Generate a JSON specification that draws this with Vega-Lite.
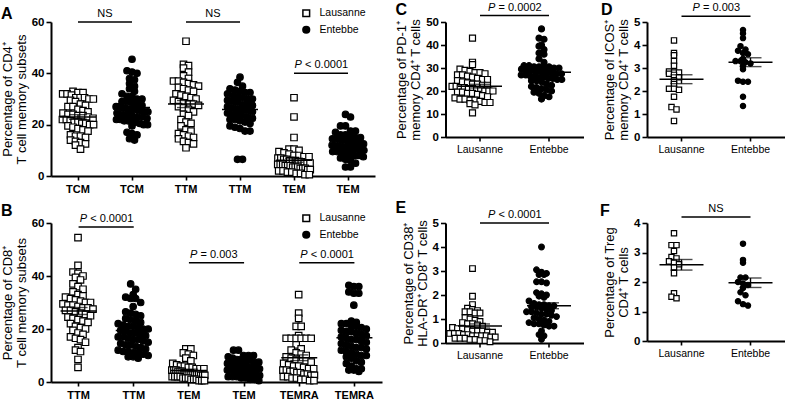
{
"$schema":"https://vega.github.io/schema/vega-lite/v6.json",
"background":"white",
"padding":{"left":1,"top":1,"right":0,"bottom":0},
"config":{
 "font":"Liberation Sans",
 "view":{"stroke":null},
 "axis":{"grid":false,"domainColor":"black","domainWidth":2,"tickColor":"black","tickWidth":1.6,"tickSize":5,"labelColor":"black","labelFontWeight":"bold","labelFontSize":11.5,"labelPadding":2,"titleColor":"black","titleFontWeight":"normal","titleFontSize":13,"titleFont":"Liberation Sans","labelFont":"Liberation Sans","titleLineHeight":14,"titlePadding":3},
 "axisX":{"tickSize":4,"labelAngle":0,"labelPadding":3,"labelFontSize":10.5,"labelFontWeight":"normal"},
 "title":{"fontSize":16,"fontWeight":"bold","anchor":"start","frame":"group","color":"black","baseline":"alphabetic"}
},
"datasets":{
"a":[
{"g":"L1","v":33},{"g":"L1","v":32.5},{"g":"L1","v":32.5},{"g":"L1","v":32},{"g":"L1","v":32},{"g":"L1","v":31.5},{"g":"L1","v":30.5},{"g":"L1","v":30.5},{"g":"L1","v":30.5},{"g":"L1","v":30},{"g":"L1","v":30},{"g":"L1","v":29.5},{"g":"L1","v":29},{"g":"L1","v":28},{"g":"L1","v":27.5},{"g":"L1","v":27},{"g":"L1","v":27},{"g":"L1","v":26},{"g":"L1","v":25.5},{"g":"L1","v":25},{"g":"L1","v":24.5},{"g":"L1","v":24},{"g":"L1","v":24},{"g":"L1","v":23.5},{"g":"L1","v":23.5},{"g":"L1","v":23},{"g":"L1","v":22.5},{"g":"L1","v":22},{"g":"L1","v":22},{"g":"L1","v":21.5},{"g":"L1","v":21},{"g":"L1","v":21},{"g":"L1","v":20.5},{"g":"L1","v":20.5},{"g":"L1","v":20},{"g":"L1","v":20},{"g":"L1","v":19.5},{"g":"L1","v":19},{"g":"L1","v":18.5},{"g":"L1","v":18},{"g":"L1","v":17.5},{"g":"L1","v":16},{"g":"L1","v":15.5},{"g":"L1","v":15.5},{"g":"L1","v":15},{"g":"L1","v":14},{"g":"L1","v":13.5},{"g":"L1","v":13},{"g":"L1","v":12.5},{"g":"L1","v":12},{"g":"L1","v":10.5},
{"g":"E1","v":45.5},{"g":"E1","v":41},{"g":"E1","v":40.5},{"g":"E1","v":40},{"g":"E1","v":38},{"g":"E1","v":37.5},{"g":"E1","v":36},{"g":"E1","v":35},{"g":"E1","v":34},{"g":"E1","v":33},{"g":"E1","v":32},{"g":"E1","v":31},{"g":"E1","v":31},{"g":"E1","v":30},{"g":"E1","v":30},{"g":"E1","v":29},{"g":"E1","v":29},{"g":"E1","v":28.5},{"g":"E1","v":28},{"g":"E1","v":27.5},{"g":"E1","v":27},{"g":"E1","v":27},{"g":"E1","v":26.5},{"g":"E1","v":26.5},{"g":"E1","v":26},{"g":"E1","v":26},{"g":"E1","v":26},{"g":"E1","v":25.5},{"g":"E1","v":25.5},{"g":"E1","v":25},{"g":"E1","v":25},{"g":"E1","v":24.5},{"g":"E1","v":24},{"g":"E1","v":24},{"g":"E1","v":23.5},{"g":"E1","v":23},{"g":"E1","v":23},{"g":"E1","v":22.5},{"g":"E1","v":22},{"g":"E1","v":22},{"g":"E1","v":21.5},{"g":"E1","v":21.5},{"g":"E1","v":21},{"g":"E1","v":21},{"g":"E1","v":20.5},{"g":"E1","v":20},{"g":"E1","v":20},{"g":"E1","v":19.5},{"g":"E1","v":17},{"g":"E1","v":16.5},{"g":"E1","v":16},{"g":"E1","v":14.5},{"g":"E1","v":14},
{"g":"L2","v":52.5},{"g":"L2","v":43.5},{"g":"L2","v":43},{"g":"L2","v":42},{"g":"L2","v":40.5},{"g":"L2","v":39},{"g":"L2","v":38},{"g":"L2","v":37},{"g":"L2","v":37},{"g":"L2","v":36.5},{"g":"L2","v":36},{"g":"L2","v":35.5},{"g":"L2","v":35},{"g":"L2","v":34.5},{"g":"L2","v":34},{"g":"L2","v":33.5},{"g":"L2","v":33},{"g":"L2","v":32},{"g":"L2","v":31.5},{"g":"L2","v":31},{"g":"L2","v":30.5},{"g":"L2","v":30},{"g":"L2","v":29.5},{"g":"L2","v":29},{"g":"L2","v":28.5},{"g":"L2","v":28},{"g":"L2","v":28},{"g":"L2","v":27.5},{"g":"L2","v":27},{"g":"L2","v":26.5},{"g":"L2","v":26},{"g":"L2","v":25},{"g":"L2","v":24},{"g":"L2","v":23.5},{"g":"L2","v":22},{"g":"L2","v":21},{"g":"L2","v":20.5},{"g":"L2","v":19.5},{"g":"L2","v":18},{"g":"L2","v":17.5},{"g":"L2","v":16.5},{"g":"L2","v":16},{"g":"L2","v":15.5},{"g":"L2","v":15},{"g":"L2","v":14.5},{"g":"L2","v":13.5},{"g":"L2","v":13},{"g":"L2","v":12.5},{"g":"L2","v":11},
{"g":"E2","v":38.5},{"g":"E2","v":36.5},{"g":"E2","v":35},{"g":"E2","v":34},{"g":"E2","v":33.5},{"g":"E2","v":33},{"g":"E2","v":32.5},{"g":"E2","v":32.5},{"g":"E2","v":32},{"g":"E2","v":31.5},{"g":"E2","v":31},{"g":"E2","v":30.5},{"g":"E2","v":30},{"g":"E2","v":30},{"g":"E2","v":29.5},{"g":"E2","v":29},{"g":"E2","v":28.5},{"g":"E2","v":28},{"g":"E2","v":28},{"g":"E2","v":27.5},{"g":"E2","v":27},{"g":"E2","v":26.5},{"g":"E2","v":26},{"g":"E2","v":26},{"g":"E2","v":25.5},{"g":"E2","v":25},{"g":"E2","v":24.5},{"g":"E2","v":24},{"g":"E2","v":24},{"g":"E2","v":23.5},{"g":"E2","v":23},{"g":"E2","v":22.5},{"g":"E2","v":22},{"g":"E2","v":22},{"g":"E2","v":21.5},{"g":"E2","v":21},{"g":"E2","v":20.5},{"g":"E2","v":19.5},{"g":"E2","v":19},{"g":"E2","v":18.5},{"g":"E2","v":17.5},{"g":"E2","v":17.5},{"g":"E2","v":6.5},{"g":"E2","v":6.5},
{"g":"L3","v":30.5},{"g":"L3","v":23},{"g":"L3","v":15},{"g":"L3","v":10.5},{"g":"L3","v":10.5},{"g":"L3","v":10},{"g":"L3","v":9.5},{"g":"L3","v":9},{"g":"L3","v":8.5},{"g":"L3","v":8},{"g":"L3","v":8},{"g":"L3","v":7.5},{"g":"L3","v":7.5},{"g":"L3","v":7},{"g":"L3","v":7},{"g":"L3","v":6.5},{"g":"L3","v":6.5},{"g":"L3","v":6},{"g":"L3","v":6},{"g":"L3","v":6},{"g":"L3","v":5.5},{"g":"L3","v":5.5},{"g":"L3","v":5},{"g":"L3","v":5},{"g":"L3","v":5},{"g":"L3","v":4.5},{"g":"L3","v":4.5},{"g":"L3","v":4.5},{"g":"L3","v":4},{"g":"L3","v":4},{"g":"L3","v":4},{"g":"L3","v":3.5},{"g":"L3","v":3.5},{"g":"L3","v":3.5},{"g":"L3","v":3},{"g":"L3","v":3},{"g":"L3","v":3},{"g":"L3","v":2.5},{"g":"L3","v":2.5},{"g":"L3","v":2},{"g":"L3","v":2},{"g":"L3","v":1.5},{"g":"L3","v":1.5},{"g":"L3","v":1},{"g":"L3","v":1},{"g":"L3","v":0.5},{"g":"L3","v":0.5},
{"g":"E3","v":24},{"g":"E3","v":23},{"g":"E3","v":19.5},{"g":"E3","v":19.5},{"g":"E3","v":17.5},{"g":"E3","v":17.5},{"g":"E3","v":17},{"g":"E3","v":16},{"g":"E3","v":16},{"g":"E3","v":15.5},{"g":"E3","v":15},{"g":"E3","v":15},{"g":"E3","v":14.5},{"g":"E3","v":14.5},{"g":"E3","v":14},{"g":"E3","v":14},{"g":"E3","v":13.5},{"g":"E3","v":13},{"g":"E3","v":13},{"g":"E3","v":12.5},{"g":"E3","v":12.5},{"g":"E3","v":12},{"g":"E3","v":12},{"g":"E3","v":11.5},{"g":"E3","v":11.5},{"g":"E3","v":11},{"g":"E3","v":11},{"g":"E3","v":10.5},{"g":"E3","v":10.5},{"g":"E3","v":10.5},{"g":"E3","v":10},{"g":"E3","v":10},{"g":"E3","v":9.5},{"g":"E3","v":9.5},{"g":"E3","v":9},{"g":"E3","v":9},{"g":"E3","v":8.5},{"g":"E3","v":8},{"g":"E3","v":8},{"g":"E3","v":7.5},{"g":"E3","v":7},{"g":"E3","v":6.5},{"g":"E3","v":6},{"g":"E3","v":5},{"g":"E3","v":3.5},{"g":"E3","v":3.5}
],
"b":[
{"g":"L1","v":54.5},{"g":"L1","v":44},{"g":"L1","v":41.5},{"g":"L1","v":41},{"g":"L1","v":40},{"g":"L1","v":39.5},{"g":"L1","v":38.5},{"g":"L1","v":37},{"g":"L1","v":36},{"g":"L1","v":35},{"g":"L1","v":34},{"g":"L1","v":33},{"g":"L1","v":32.5},{"g":"L1","v":32},{"g":"L1","v":31.5},{"g":"L1","v":31},{"g":"L1","v":30.5},{"g":"L1","v":30},{"g":"L1","v":30},{"g":"L1","v":29.5},{"g":"L1","v":29},{"g":"L1","v":29},{"g":"L1","v":28.5},{"g":"L1","v":28},{"g":"L1","v":28},{"g":"L1","v":27.5},{"g":"L1","v":27},{"g":"L1","v":27},{"g":"L1","v":26.5},{"g":"L1","v":26},{"g":"L1","v":25.5},{"g":"L1","v":25},{"g":"L1","v":24.5},{"g":"L1","v":24},{"g":"L1","v":23.5},{"g":"L1","v":23},{"g":"L1","v":22.5},{"g":"L1","v":22},{"g":"L1","v":21},{"g":"L1","v":20.5},{"g":"L1","v":20},{"g":"L1","v":19.5},{"g":"L1","v":18.5},{"g":"L1","v":18},{"g":"L1","v":17},{"g":"L1","v":16.5},{"g":"L1","v":16},{"g":"L1","v":15},{"g":"L1","v":13},{"g":"L1","v":12},{"g":"L1","v":11.5},{"g":"L1","v":8.5},{"g":"L1","v":5.5},
{"g":"E1","v":37},{"g":"E1","v":35},{"g":"E1","v":33},{"g":"E1","v":32},{"g":"E1","v":31.5},{"g":"E1","v":31.5},{"g":"E1","v":30},{"g":"E1","v":28.5},{"g":"E1","v":26.5},{"g":"E1","v":26},{"g":"E1","v":25.5},{"g":"E1","v":25},{"g":"E1","v":24},{"g":"E1","v":23.5},{"g":"E1","v":23},{"g":"E1","v":22.5},{"g":"E1","v":22},{"g":"E1","v":21.5},{"g":"E1","v":21},{"g":"E1","v":21},{"g":"E1","v":20.5},{"g":"E1","v":20},{"g":"E1","v":20},{"g":"E1","v":19.5},{"g":"E1","v":19},{"g":"E1","v":18.5},{"g":"E1","v":18.5},{"g":"E1","v":18},{"g":"E1","v":17.5},{"g":"E1","v":17},{"g":"E1","v":17},{"g":"E1","v":16.5},{"g":"E1","v":16},{"g":"E1","v":16},{"g":"E1","v":15.5},{"g":"E1","v":15},{"g":"E1","v":14.5},{"g":"E1","v":14},{"g":"E1","v":14},{"g":"E1","v":13.5},{"g":"E1","v":13},{"g":"E1","v":12.5},{"g":"E1","v":12},{"g":"E1","v":11.5},{"g":"E1","v":11.5},{"g":"E1","v":11},{"g":"E1","v":11},{"g":"E1","v":10.5},{"g":"E1","v":10},{"g":"E1","v":9.5},{"g":"E1","v":9.5},{"g":"E1","v":9},
{"g":"L2","v":12.5},{"g":"L2","v":12.5},{"g":"L2","v":11},{"g":"L2","v":10.5},{"g":"L2","v":10},{"g":"L2","v":9},{"g":"L2","v":8},{"g":"L2","v":7},{"g":"L2","v":6.5},{"g":"L2","v":6},{"g":"L2","v":6},{"g":"L2","v":5.5},{"g":"L2","v":5.5},{"g":"L2","v":5},{"g":"L2","v":5},{"g":"L2","v":5},{"g":"L2","v":4.5},{"g":"L2","v":4.5},{"g":"L2","v":4.5},{"g":"L2","v":4},{"g":"L2","v":4},{"g":"L2","v":4},{"g":"L2","v":3.5},{"g":"L2","v":3.5},{"g":"L2","v":3.5},{"g":"L2","v":3.5},{"g":"L2","v":3},{"g":"L2","v":3},{"g":"L2","v":3},{"g":"L2","v":3},{"g":"L2","v":2.5},{"g":"L2","v":2.5},{"g":"L2","v":2.5},{"g":"L2","v":2},{"g":"L2","v":2},{"g":"L2","v":2},{"g":"L2","v":2},{"g":"L2","v":1.5},{"g":"L2","v":1.5},{"g":"L2","v":1.5},{"g":"L2","v":1},{"g":"L2","v":1},{"g":"L2","v":1},{"g":"L2","v":0.5},{"g":"L2","v":0.5},{"g":"L2","v":0.5},
{"g":"E2","v":12},{"g":"E2","v":12},{"g":"E2","v":10},{"g":"E2","v":10},{"g":"E2","v":10},{"g":"E2","v":9.5},{"g":"E2","v":9},{"g":"E2","v":8.5},{"g":"E2","v":8.5},{"g":"E2","v":8},{"g":"E2","v":8},{"g":"E2","v":7.5},{"g":"E2","v":7.5},{"g":"E2","v":7},{"g":"E2","v":7},{"g":"E2","v":6.5},{"g":"E2","v":6.5},{"g":"E2","v":6},{"g":"E2","v":6},{"g":"E2","v":6},{"g":"E2","v":5.5},{"g":"E2","v":5.5},{"g":"E2","v":5},{"g":"E2","v":5},{"g":"E2","v":5},{"g":"E2","v":4.5},{"g":"E2","v":4.5},{"g":"E2","v":4.5},{"g":"E2","v":4},{"g":"E2","v":4},{"g":"E2","v":4},{"g":"E2","v":3.5},{"g":"E2","v":3.5},{"g":"E2","v":3},{"g":"E2","v":3},{"g":"E2","v":3},{"g":"E2","v":2.5},{"g":"E2","v":2.5},{"g":"E2","v":2},{"g":"E2","v":2},{"g":"E2","v":2},{"g":"E2","v":1.5},{"g":"E2","v":1.5},{"g":"E2","v":1},{"g":"E2","v":1},{"g":"E2","v":0.5},
{"g":"L3","v":33},{"g":"L3","v":26},{"g":"L3","v":24},{"g":"L3","v":21},{"g":"L3","v":21},{"g":"L3","v":17.5},{"g":"L3","v":16.5},{"g":"L3","v":16.5},{"g":"L3","v":16.5},{"g":"L3","v":16.5},{"g":"L3","v":16.5},{"g":"L3","v":16.5},{"g":"L3","v":14},{"g":"L3","v":12.5},{"g":"L3","v":12},{"g":"L3","v":11},{"g":"L3","v":10.5},{"g":"L3","v":10},{"g":"L3","v":9.5},{"g":"L3","v":9},{"g":"L3","v":8.5},{"g":"L3","v":8},{"g":"L3","v":8},{"g":"L3","v":7.5},{"g":"L3","v":7},{"g":"L3","v":6.5},{"g":"L3","v":6},{"g":"L3","v":6},{"g":"L3","v":5.5},{"g":"L3","v":5},{"g":"L3","v":5},{"g":"L3","v":4.5},{"g":"L3","v":4.5},{"g":"L3","v":4},{"g":"L3","v":4},{"g":"L3","v":3.5},{"g":"L3","v":3.5},{"g":"L3","v":3},{"g":"L3","v":3},{"g":"L3","v":2.5},{"g":"L3","v":2.5},{"g":"L3","v":2},{"g":"L3","v":2},{"g":"L3","v":1.5},{"g":"L3","v":1.5},{"g":"L3","v":1},{"g":"L3","v":1},{"g":"L3","v":0.5},{"g":"L3","v":0.5},
{"g":"E3","v":36.5},{"g":"E3","v":36},{"g":"E3","v":36},{"g":"E3","v":34},{"g":"E3","v":33.5},{"g":"E3","v":33.5},{"g":"E3","v":29},{"g":"E3","v":23},{"g":"E3","v":22.5},{"g":"E3","v":22},{"g":"E3","v":22},{"g":"E3","v":21},{"g":"E3","v":21},{"g":"E3","v":20.5},{"g":"E3","v":20},{"g":"E3","v":19.5},{"g":"E3","v":19},{"g":"E3","v":19},{"g":"E3","v":18.5},{"g":"E3","v":18},{"g":"E3","v":17.5},{"g":"E3","v":17},{"g":"E3","v":16.5},{"g":"E3","v":16},{"g":"E3","v":16},{"g":"E3","v":15.5},{"g":"E3","v":15},{"g":"E3","v":14.5},{"g":"E3","v":14},{"g":"E3","v":13.5},{"g":"E3","v":13},{"g":"E3","v":13},{"g":"E3","v":12.5},{"g":"E3","v":12},{"g":"E3","v":11.5},{"g":"E3","v":11},{"g":"E3","v":10.5},{"g":"E3","v":10},{"g":"E3","v":10},{"g":"E3","v":9.5},{"g":"E3","v":9},{"g":"E3","v":8},{"g":"E3","v":7.5},{"g":"E3","v":7},{"g":"E3","v":6},{"g":"E3","v":5},{"g":"E3","v":5},{"g":"E3","v":4.5},{"g":"E3","v":4.5},{"g":"E3","v":4}
],
"c":[
{"g":"L","v":43},{"g":"L","v":32.5},{"g":"L","v":31.5},{"g":"L","v":29.5},{"g":"L","v":29},{"g":"L","v":28.5},{"g":"L","v":28},{"g":"L","v":28},{"g":"L","v":27.5},{"g":"L","v":27},{"g":"L","v":27},{"g":"L","v":26.5},{"g":"L","v":26},{"g":"L","v":25.5},{"g":"L","v":25},{"g":"L","v":25},{"g":"L","v":24.5},{"g":"L","v":24},{"g":"L","v":23.5},{"g":"L","v":23},{"g":"L","v":23},{"g":"L","v":22.5},{"g":"L","v":22.5},{"g":"L","v":22},{"g":"L","v":22},{"g":"L","v":21.5},{"g":"L","v":21.5},{"g":"L","v":21},{"g":"L","v":21},{"g":"L","v":20.5},{"g":"L","v":20.5},{"g":"L","v":20},{"g":"L","v":20},{"g":"L","v":20},{"g":"L","v":19.5},{"g":"L","v":19.5},{"g":"L","v":19},{"g":"L","v":19},{"g":"L","v":18.5},{"g":"L","v":18},{"g":"L","v":17.5},{"g":"L","v":17},{"g":"L","v":16.5},{"g":"L","v":16.5},{"g":"L","v":16},{"g":"L","v":16},{"g":"L","v":15.5},{"g":"L","v":15},{"g":"L","v":15},{"g":"L","v":14.5},{"g":"L","v":14},{"g":"L","v":10.5},
{"g":"E","v":47},{"g":"E","v":43},{"g":"E","v":42.5},{"g":"E","v":40},{"g":"E","v":39.5},{"g":"E","v":38},{"g":"E","v":36.5},{"g":"E","v":36},{"g":"E","v":34},{"g":"E","v":32.5},{"g":"E","v":31},{"g":"E","v":31},{"g":"E","v":30.5},{"g":"E","v":30.5},{"g":"E","v":30.5},{"g":"E","v":30.5},{"g":"E","v":30},{"g":"E","v":30},{"g":"E","v":29.5},{"g":"E","v":29},{"g":"E","v":29},{"g":"E","v":28.5},{"g":"E","v":28.5},{"g":"E","v":28},{"g":"E","v":28},{"g":"E","v":27.5},{"g":"E","v":27.5},{"g":"E","v":27},{"g":"E","v":27},{"g":"E","v":26.5},{"g":"E","v":26.5},{"g":"E","v":26},{"g":"E","v":26},{"g":"E","v":25.5},{"g":"E","v":25.5},{"g":"E","v":25},{"g":"E","v":25},{"g":"E","v":24.5},{"g":"E","v":24.5},{"g":"E","v":24},{"g":"E","v":23},{"g":"E","v":22.5},{"g":"E","v":22},{"g":"E","v":21.5},{"g":"E","v":21},{"g":"E","v":20.5},{"g":"E","v":20},{"g":"E","v":19.5},{"g":"E","v":19},{"g":"E","v":18},{"g":"E","v":17.5},{"g":"E","v":16.5}
],
"d":[
{"g":"L","v":4.2},{"g":"L","v":3.65},{"g":"L","v":3.55},{"g":"L","v":3.3},{"g":"L","v":3.1},{"g":"L","v":2.85},{"g":"L","v":2.8},{"g":"L","v":2.8},{"g":"L","v":2.75},{"g":"L","v":2.7},{"g":"L","v":2.6},{"g":"L","v":2.45},{"g":"L","v":2.3},{"g":"L","v":2.1},{"g":"L","v":2.1},{"g":"L","v":2.05},{"g":"L","v":1.75},{"g":"L","v":1.3},{"g":"L","v":1.2},{"g":"L","v":0.7},
{"g":"E","v":4.65},{"g":"E","v":4.5},{"g":"E","v":4.3},{"g":"E","v":3.95},{"g":"E","v":3.8},{"g":"E","v":3.75},{"g":"E","v":3.65},{"g":"E","v":3.6},{"g":"E","v":3.4},{"g":"E","v":3.3},{"g":"E","v":3.3},{"g":"E","v":3.25},{"g":"E","v":3.2},{"g":"E","v":3.1},{"g":"E","v":2.95},{"g":"E","v":2.45},{"g":"E","v":2.4},{"g":"E","v":2.4},{"g":"E","v":1.75},{"g":"E","v":1.35}
],
"e":[
{"g":"L","v":3.1},{"g":"L","v":1.95},{"g":"L","v":1.6},{"g":"L","v":1.45},{"g":"L","v":1.4},{"g":"L","v":1.35},{"g":"L","v":1.3},{"g":"L","v":1.3},{"g":"L","v":1.25},{"g":"L","v":1.25},{"g":"L","v":1.05},{"g":"L","v":1.0},{"g":"L","v":0.95},{"g":"L","v":0.9},{"g":"L","v":0.85},{"g":"L","v":0.8},{"g":"L","v":0.8},{"g":"L","v":0.75},{"g":"L","v":0.7},{"g":"L","v":0.65},{"g":"L","v":0.6},{"g":"L","v":0.6},{"g":"L","v":0.55},{"g":"L","v":0.5},{"g":"L","v":0.5},{"g":"L","v":0.5},{"g":"L","v":0.45},{"g":"L","v":0.45},{"g":"L","v":0.4},{"g":"L","v":0.4},{"g":"L","v":0.4},{"g":"L","v":0.35},{"g":"L","v":0.35},{"g":"L","v":0.3},{"g":"L","v":0.3},{"g":"L","v":0.3},{"g":"L","v":0.3},{"g":"L","v":0.25},{"g":"L","v":0.25},{"g":"L","v":0.2},{"g":"L","v":0.2},{"g":"L","v":0.2},{"g":"L","v":0.15},{"g":"L","v":0.15},{"g":"L","v":0.1},{"g":"L","v":0.1},{"g":"L","v":0.05},
{"g":"E","v":4.0},{"g":"E","v":3.05},{"g":"E","v":2.95},{"g":"E","v":2.9},{"g":"E","v":2.85},{"g":"E","v":2.85},{"g":"E","v":2.55},{"g":"E","v":2.55},{"g":"E","v":2.5},{"g":"E","v":2.1},{"g":"E","v":2.05},{"g":"E","v":2.0},{"g":"E","v":1.95},{"g":"E","v":1.9},{"g":"E","v":1.75},{"g":"E","v":1.65},{"g":"E","v":1.6},{"g":"E","v":1.6},{"g":"E","v":1.55},{"g":"E","v":1.55},{"g":"E","v":1.5},{"g":"E","v":1.5},{"g":"E","v":1.45},{"g":"E","v":1.4},{"g":"E","v":1.35},{"g":"E","v":1.3},{"g":"E","v":1.3},{"g":"E","v":1.25},{"g":"E","v":1.2},{"g":"E","v":1.2},{"g":"E","v":1.15},{"g":"E","v":1.1},{"g":"E","v":1.05},{"g":"E","v":1.0},{"g":"E","v":0.95},{"g":"E","v":0.9},{"g":"E","v":0.85},{"g":"E","v":0.8},{"g":"E","v":0.8},{"g":"E","v":0.75},{"g":"E","v":0.7},{"g":"E","v":0.7},{"g":"E","v":0.5},{"g":"E","v":0.35},{"g":"E","v":0.3},{"g":"E","v":0.15}
],
"f":[
{"g":"L","v":3.65},{"g":"L","v":3.25},{"g":"L","v":3.25},{"g":"L","v":3.05},{"g":"L","v":2.85},{"g":"L","v":2.8},{"g":"L","v":2.7},{"g":"L","v":2.65},{"g":"L","v":2.6},{"g":"L","v":2.5},{"g":"L","v":2.3},{"g":"L","v":1.62},{"g":"L","v":1.5},{"g":"L","v":1.45},
{"g":"E","v":3.3},{"g":"E","v":2.75},{"g":"E","v":2.65},{"g":"E","v":2.15},{"g":"E","v":2.15},{"g":"E","v":2.0},{"g":"E","v":1.95},{"g":"E","v":1.9},{"g":"E","v":1.8},{"g":"E","v":1.65},{"g":"E","v":1.55},{"g":"E","v":1.35},{"g":"E","v":1.25},{"g":"E","v":1.2}
]
},
"bounds":"flush",
"columns":3,
"spacing":{"row":47,"column":63.5},
"resolve":{"scale":{"shape":"independent","fill":"independent"},"legend":{"shape":"independent","fill":"independent"}},
"concat":[
 {"width":324,"height":154,"title":{"text":"A","dx":-50,"offset":-14},"data":{"name":"a"},
  "encoding":{
   "x":{"field":"g","type":"nominal","title":null,"scale":{"domain":["L1","E1","L2","E2","L3","E3"],"paddingInner":0,"paddingOuter":0},"axis":{"labelExpr":"indexof(datum.value,'1')>=0?'TCM':indexof(datum.value,'2')>=0?'TTM':'TEM'","labelFontWeight":"bold","labelFontSize":11}},
   "y":{"field":"v","type":"quantitative","title":["Percentage of CD4⁺","T cell memory subsets"],"scale":{"domain":[0,60],"nice":false},"axis":{"values":[0,20,40,60]}}
  },
  "layer":[
   {"transform":[{"bin":{"step":2.5},"field":"v","as":"vb"},{"window":[{"op":"row_number","as":"r"}],"groupby":["g","vb"]},{"joinaggregate":[{"op":"count","as":"n"}],"groupby":["g","vb"]},{"calculate":"(datum.r-(datum.n+1)/2)*min(1,7/datum.n)","as":"o"}],
    "mark":{"type":"point","stroke":"black","strokeWidth":1.2,"size":42,"opacity":1,"fillOpacity":1},
    "encoding":{
     "xOffset":{"field":"o","type":"quantitative","scale":{"domain":[-3.4,3.4]}},
     "shape":{"field":"g","type":"nominal","scale":{"domain":["L1","E1","L2","E2","L3","E3"],"range":["square","circle","square","circle","square","circle"]},"legend":{"orient":"none","legendX":250,"legendY":-14,"title":null,"values":["L1","E1"],"labelExpr":"datum.value=='L1'?'Lausanne':'Entebbe'","symbolSize":45,"labelFontSize":10.5,"labelColor":"black","padding":0,"rowPadding":2.5,"labelOffset":8,"encode":{"symbols":{"fill":{"condition":{"test":"datum.value=='L1'","value":"white"},"value":"black"},"stroke":{"value":"black"},"strokeWidth":{"value":1.3},"opacity":{"value":1}}}}},
     "fill":{"field":"g","type":"nominal","scale":{"domain":["L1","E1","L2","E2","L3","E3"],"range":["white","black","white","black","white","black"]},"legend":null}
    }},
   {"transform":[{"aggregate":[{"op":"mean","field":"v","as":"v"}],"groupby":["g"]}],"mark":{"type":"tick","color":"black","size":36,"thickness":1.5,"opacity":1}},
   {"mark":{"type":"errorbar","extent":"stderr","color":"black","thickness":1.4,"ticks":{"size":18}}},
   {"data":{"values":[{"g":"L1","b":"E1","v":60,"t":"NS"},{"g":"L2","b":"E2","v":60,"t":"NS"},{"g":"L3","b":"E3","v":40,"t":"< 0.0001"}]},
    "layer":[
     {"mark":{"type":"rule","color":"black","strokeWidth":1.5},"encoding":{"x2":{"field":"b"}}},
     {"transform":[{"filter":"datum.t=='NS'"}],"mark":{"type":"text","fontSize":11,"baseline":"alphabetic","dy":-5,"color":"black"},"encoding":{"x":{"field":"g","type":"nominal","title":null,"bandPosition":1},"text":{"field":"t"}}},
     {"transform":[{"filter":"datum.t!='NS'"}],"mark":{"type":"text","text":"P","fontStyle":"italic","fontSize":11,"align":"left","baseline":"alphabetic","dy":-5,"dx":-26.5,"color":"black"},"encoding":{"x":{"field":"g","type":"nominal","title":null,"bandPosition":1}}},
     {"transform":[{"filter":"datum.t!='NS'"}],"mark":{"type":"text","fontSize":11,"align":"left","baseline":"alphabetic","dy":-5,"dx":-16,"color":"black"},"encoding":{"x":{"field":"g","type":"nominal","title":null,"bandPosition":1},"text":{"field":"t"}}}
    ]}
  ]},
 {"width":138,"height":115,"title":{"text":"C","dx":-50,"offset":-16},"data":{"name":"c"},
  "encoding":{
   "x":{"field":"g","type":"nominal","title":null,"scale":{"domain":["L","E"],"paddingInner":0,"paddingOuter":0},"axis":{"labelExpr":"datum.value=='L'?'Lausanne':'Entebbe'"}},
   "y":{"field":"v","type":"quantitative","title":["Percentage of PD-1⁺","memory CD4⁺ T cells"],"scale":{"domain":[0,50],"nice":false},"axis":{"values":[0,10,20,30,40,50]}}
  },
  "layer":[
   {"transform":[{"bin":{"step":2.5},"field":"v","as":"vb"},{"window":[{"op":"row_number","as":"r"}],"groupby":["g","vb"]},{"joinaggregate":[{"op":"count","as":"n"}],"groupby":["g","vb"]},{"calculate":"(datum.r-(datum.n+1)/2)*min(1,9/datum.n)","as":"o"}],
    "mark":{"type":"point","stroke":"black","strokeWidth":1.2,"size":36,"opacity":1,"fillOpacity":1},
    "encoding":{
     "xOffset":{"field":"o","type":"quantitative","scale":{"domain":[-4.9,4.9]}},
     "shape":{"field":"g","type":"nominal","scale":{"domain":["L","E"],"range":["square","circle"]},"legend":null},
     "fill":{"field":"g","type":"nominal","scale":{"domain":["L","E"],"range":["white","black"]},"legend":null}
    }},
   {"transform":[{"aggregate":[{"op":"mean","field":"v","as":"v"}],"groupby":["g"]}],"mark":{"type":"tick","color":"black","size":44,"thickness":1.5,"opacity":1}},
   {"mark":{"type":"errorbar","extent":"stderr","color":"black","thickness":1.4,"ticks":{"size":20}}},
   {"data":{"values":[{"g":"L","b":"E","v":52.8,"t":"= 0.0002"}]},
    "layer":[
     {"mark":{"type":"rule","color":"black","strokeWidth":1.5},"encoding":{"x2":{"field":"b"}}},
     {"mark":{"type":"text","text":"P","fontStyle":"italic","fontSize":11,"align":"left","baseline":"alphabetic","dy":-5,"dx":-26.5,"color":"black"},"encoding":{"x":{"field":"g","type":"nominal","title":null,"bandPosition":1}}},
     {"mark":{"type":"text","fontSize":11,"align":"left","baseline":"alphabetic","dy":-5,"dx":-16,"color":"black"},"encoding":{"x":{"field":"g","type":"nominal","title":null,"bandPosition":1},"text":{"field":"t"}}}
    ]}
  ]},
 {"width":138,"height":115,"title":{"text":"D","dx":-46,"offset":-16},"data":{"name":"d"},
  "encoding":{
   "x":{"field":"g","type":"nominal","title":null,"scale":{"domain":["L","E"],"paddingInner":0,"paddingOuter":0},"axis":{"labelExpr":"datum.value=='L'?'Lausanne':'Entebbe'"}},
   "y":{"field":"v","type":"quantitative","title":["Percentage of ICOS⁺","memory CD4⁺ T cells"],"scale":{"domain":[0,5],"nice":false},"axis":{"values":[0,1,2,3,4,5]}}
  },
  "layer":[
   {"transform":[{"bin":{"step":0.2},"field":"v","as":"vb"},{"window":[{"op":"row_number","as":"r"}],"groupby":["g","vb"]},{"joinaggregate":[{"op":"count","as":"n"}],"groupby":["g","vb"]},{"calculate":"(datum.r-(datum.n+1)/2)*min(1,9/datum.n)","as":"o"}],
    "mark":{"type":"point","stroke":"black","strokeWidth":1.2,"size":28,"opacity":1,"fillOpacity":1},
    "encoding":{
     "xOffset":{"field":"o","type":"quantitative","scale":{"domain":[-4.9,4.9]}},
     "shape":{"field":"g","type":"nominal","scale":{"domain":["L","E"],"range":["square","circle"]},"legend":null},
     "fill":{"field":"g","type":"nominal","scale":{"domain":["L","E"],"range":["white","black"]},"legend":null}
    }},
   {"transform":[{"aggregate":[{"op":"mean","field":"v","as":"v"}],"groupby":["g"]}],"mark":{"type":"tick","color":"black","size":44,"thickness":1.5,"opacity":1}},
   {"mark":{"type":"errorbar","extent":"stderr","color":"black","thickness":1.4,"ticks":{"size":22}}},
   {"data":{"values":[{"g":"L","b":"E","v":5.25,"t":"= 0.003"}]},
    "layer":[
     {"mark":{"type":"rule","color":"black","strokeWidth":1.5},"encoding":{"x2":{"field":"b"}}},
     {"mark":{"type":"text","text":"P","fontStyle":"italic","fontSize":11,"align":"left","baseline":"alphabetic","dy":-5,"dx":-23.5,"color":"black"},"encoding":{"x":{"field":"g","type":"nominal","title":null,"bandPosition":1}}},
     {"mark":{"type":"text","fontSize":11,"align":"left","baseline":"alphabetic","dy":-5,"dx":-13,"color":"black"},"encoding":{"x":{"field":"g","type":"nominal","title":null,"bandPosition":1},"text":{"field":"t"}}}
    ]}
  ]},
 {"width":331,"height":159,"title":{"text":"B","dx":-50,"offset":-6},"data":{"name":"b"},
  "encoding":{
   "x":{"field":"g","type":"nominal","title":null,"scale":{"domain":["L1","E1","L2","E2","L3","E3"],"paddingInner":0,"paddingOuter":0},"axis":{"labelExpr":"indexof(datum.value,'1')>=0?'TTM':indexof(datum.value,'2')>=0?'TEM':'TEMRA'","labelFontWeight":"bold","labelFontSize":11}},
   "y":{"field":"v","type":"quantitative","title":["Percentage of CD8⁺","T cell memory subsets"],"scale":{"domain":[0,60],"nice":false},"axis":{"values":[0,20,40,60]}}
  },
  "layer":[
   {"transform":[{"bin":{"step":2.5},"field":"v","as":"vb"},{"window":[{"op":"row_number","as":"r"}],"groupby":["g","vb"]},{"joinaggregate":[{"op":"count","as":"n"}],"groupby":["g","vb"]},{"calculate":"(datum.r-(datum.n+1)/2)*min(1,7/datum.n)","as":"o"}],
    "mark":{"type":"point","stroke":"black","strokeWidth":1.2,"size":42,"opacity":1,"fillOpacity":1},
    "encoding":{
     "xOffset":{"field":"o","type":"quantitative","scale":{"domain":[-3.45,3.45]}},
     "shape":{"field":"g","type":"nominal","scale":{"domain":["L1","E1","L2","E2","L3","E3"],"range":["square","circle","square","circle","square","circle"]},"legend":{"orient":"none","legendX":250,"legendY":-10,"title":null,"values":["L1","E1"],"labelExpr":"datum.value=='L1'?'Lausanne':'Entebbe'","symbolSize":45,"labelFontSize":10.5,"labelColor":"black","padding":0,"rowPadding":2.5,"labelOffset":8,"encode":{"symbols":{"fill":{"condition":{"test":"datum.value=='L1'","value":"white"},"value":"black"},"stroke":{"value":"black"},"strokeWidth":{"value":1.3},"opacity":{"value":1}}}}},
     "fill":{"field":"g","type":"nominal","scale":{"domain":["L1","E1","L2","E2","L3","E3"],"range":["white","black","white","black","white","black"]},"legend":null}
    }},
   {"transform":[{"aggregate":[{"op":"mean","field":"v","as":"v"}],"groupby":["g"]}],"mark":{"type":"tick","color":"black","size":36,"thickness":1.5,"opacity":1}},
   {"mark":{"type":"errorbar","extent":"stderr","color":"black","thickness":1.4,"ticks":{"size":18}}},
   {"data":{"values":[{"g":"L1","b":"E1","v":58.5,"t":"< 0.0001"},{"g":"L2","b":"E2","v":45,"t":"= 0.003"},{"g":"L3","b":"E3","v":45,"t":"< 0.0001"}]},
    "layer":[
     {"mark":{"type":"rule","color":"black","strokeWidth":1.5},"encoding":{"x2":{"field":"b"}}},
     {"mark":{"type":"text","text":"P","fontStyle":"italic","fontSize":11,"align":"left","baseline":"alphabetic","dy":-5,"dx":-26.5,"color":"black"},"encoding":{"x":{"field":"g","type":"nominal","title":null,"bandPosition":1}}},
     {"mark":{"type":"text","fontSize":11,"align":"left","baseline":"alphabetic","dy":-5,"dx":-16,"color":"black"},"encoding":{"x":{"field":"g","type":"nominal","title":null,"bandPosition":1},"text":{"field":"t"}}}
    ]}
  ]},
 {"width":138,"height":120,"title":{"text":"E","dx":-50,"offset":-7},"data":{"name":"e"},
  "encoding":{
   "x":{"field":"g","type":"nominal","title":null,"scale":{"domain":["L","E"],"paddingInner":0,"paddingOuter":0},"axis":{"labelExpr":"datum.value=='L'?'Lausanne':'Entebbe'"}},
   "y":{"field":"v","type":"quantitative","title":["Percentage of CD38⁺","HLA-DR⁺ CD8⁺ T cells"],"scale":{"domain":[0,5],"nice":false},"axis":{"values":[0,1,2,3,4,5]}}
  },
  "layer":[
   {"transform":[{"bin":{"step":0.22},"field":"v","as":"vb"},{"window":[{"op":"row_number","as":"r"}],"groupby":["g","vb"]},{"joinaggregate":[{"op":"count","as":"n"}],"groupby":["g","vb"]},{"calculate":"(datum.r-(datum.n+1)/2)*min(1,10/datum.n)","as":"o"}],
    "mark":{"type":"point","stroke":"black","strokeWidth":1.2,"size":32,"opacity":1,"fillOpacity":1},
    "encoding":{
     "xOffset":{"field":"o","type":"quantitative","scale":{"domain":[-5.4,5.4]}},
     "shape":{"field":"g","type":"nominal","scale":{"domain":["L","E"],"range":["square","circle"]},"legend":null},
     "fill":{"field":"g","type":"nominal","scale":{"domain":["L","E"],"range":["white","black"]},"legend":null}
    }},
   {"transform":[{"aggregate":[{"op":"mean","field":"v","as":"v"}],"groupby":["g"]}],"mark":{"type":"tick","color":"black","size":44,"thickness":1.5,"opacity":1}},
   {"mark":{"type":"errorbar","extent":"stderr","color":"black","thickness":1.4,"ticks":{"size":20}}},
   {"data":{"values":[{"g":"L","b":"E","v":5.0,"t":"< 0.0001"}]},
    "layer":[
     {"mark":{"type":"rule","color":"black","strokeWidth":1.5},"encoding":{"x2":{"field":"b"}}},
     {"mark":{"type":"text","text":"P","fontStyle":"italic","fontSize":11,"align":"left","baseline":"alphabetic","dy":-5,"dx":-26.5,"color":"black"},"encoding":{"x":{"field":"g","type":"nominal","title":null,"bandPosition":1}}},
     {"mark":{"type":"text","fontSize":11,"align":"left","baseline":"alphabetic","dy":-5,"dx":-16,"color":"black"},"encoding":{"x":{"field":"g","type":"nominal","title":null,"bandPosition":1},"text":{"field":"t"}}}
    ]}
  ]},
 {"width":138,"height":118,"title":{"text":"F","dx":-47,"offset":-16},"data":{"name":"f"},
  "encoding":{
   "x":{"field":"g","type":"nominal","title":null,"scale":{"domain":["L","E"],"paddingInner":0,"paddingOuter":0},"axis":{"labelExpr":"datum.value=='L'?'Lausanne':'Entebbe'"}},
   "y":{"field":"v","type":"quantitative","title":["Percentage of Treg","CD4⁺ T cells"],"scale":{"domain":[0,4],"nice":false},"axis":{"values":[0,1,2,3,4]}}
  },
  "layer":[
   {"transform":[{"bin":{"step":0.17},"field":"v","as":"vb"},{"window":[{"op":"row_number","as":"r"}],"groupby":["g","vb"]},{"joinaggregate":[{"op":"count","as":"n"}],"groupby":["g","vb"]},{"calculate":"(datum.r-(datum.n+1)/2)*min(1,9/datum.n)","as":"o"}],
    "mark":{"type":"point","stroke":"black","strokeWidth":1.2,"size":28,"opacity":1,"fillOpacity":1},
    "encoding":{
     "xOffset":{"field":"o","type":"quantitative","scale":{"domain":[-4.9,4.9]}},
     "shape":{"field":"g","type":"nominal","scale":{"domain":["L","E"],"range":["square","circle"]},"legend":null},
     "fill":{"field":"g","type":"nominal","scale":{"domain":["L","E"],"range":["white","black"]},"legend":null}
    }},
   {"transform":[{"aggregate":[{"op":"mean","field":"v","as":"v"}],"groupby":["g"]}],"mark":{"type":"tick","color":"black","size":44,"thickness":1.5,"opacity":1}},
   {"mark":{"type":"errorbar","extent":"stderr","color":"black","thickness":1.4,"ticks":{"size":22}}},
   {"data":{"values":[{"g":"L","b":"E","v":4.2,"t":"NS"}]},
    "layer":[
     {"mark":{"type":"rule","color":"black","strokeWidth":1.5},"encoding":{"x2":{"field":"b"}}},
     {"mark":{"type":"text","fontSize":11,"baseline":"alphabetic","dy":-5,"color":"black"},"encoding":{"x":{"field":"g","type":"nominal","title":null,"bandPosition":1},"text":{"field":"t"}}}
    ]}
  ]}
]
}
